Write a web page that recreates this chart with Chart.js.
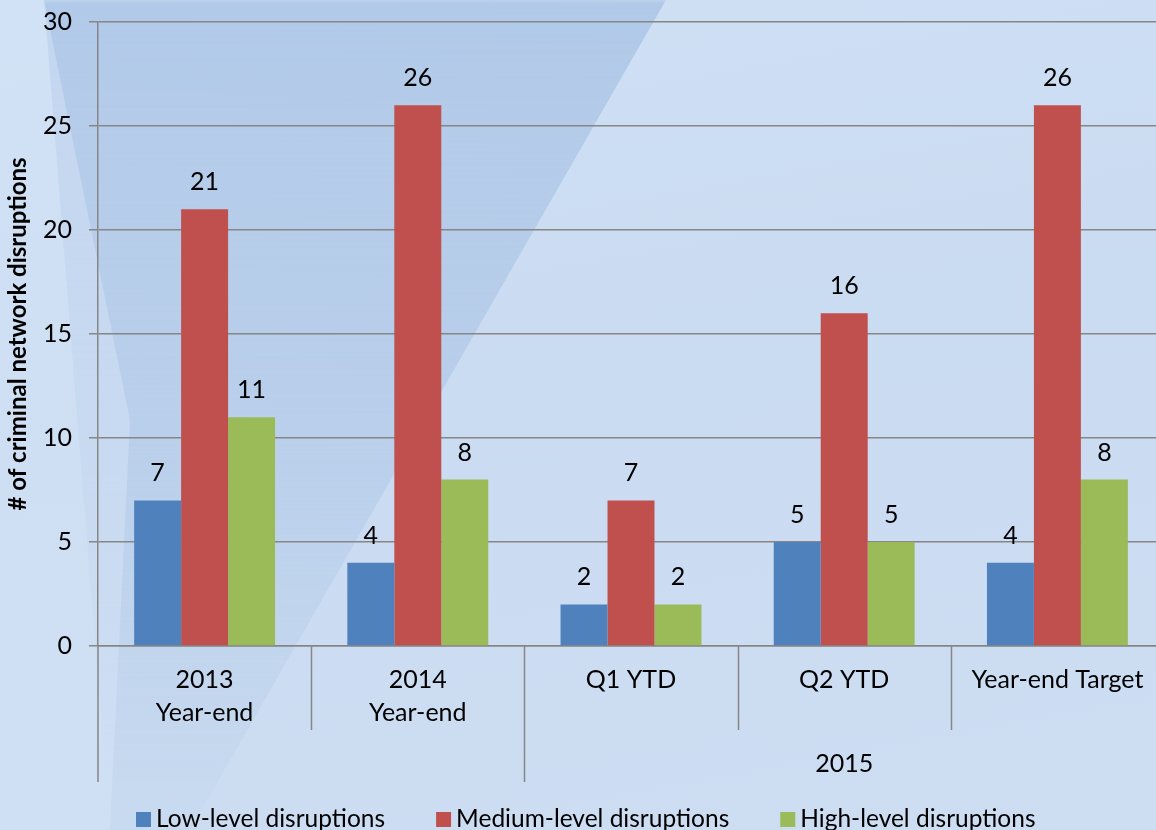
<!DOCTYPE html>
<html>
<head>
<meta charset="utf-8">
<script src="https://cdn.jsdelivr.net/npm/chart.js@4.4.1/dist/chart.umd.min.js"></script>
<style>
  html, body { margin:0; padding:0; width:1156px; height:830px; overflow:hidden; }
  body { position:relative; background: linear-gradient(170deg, #cddff4 0%, #c5d8ef 45%, #c9dbf1 100%); }
  .shape1 { position:absolute; left:0; top:0; width:1156px; height:830px;
    background: linear-gradient(180deg, rgba(160,188,226,0.6) 0%, rgba(160,188,226,0.35) 45%, rgba(160,188,226,0.0) 95%);
    clip-path: polygon(44px 0px, 666px 0px, 190px 830px, 110px 830px); filter: blur(2px); }
  .shape3 { position:absolute; left:0; top:0; width:1156px; height:830px;
    background: rgba(218,231,248,0.45);
    clip-path: polygon(0px 0px, 44px 0px, 130px 420px, 110px 830px, 0px 830px); }
  .shape2 { position:absolute; left:0; top:0; width:1156px; height:830px;
    background: rgba(214,228,247,0.3);
    clip-path: polygon(666px 0px, 1156px 0px, 1156px 830px, 190px 830px); }
  #wrap { position:absolute; left:0; top:0; width:1164px; height:830px; }
</style>
</head>
<body>
<div class="shape1"></div>
<div class="shape2"></div>
<div class="shape3"></div>
<div id="wrap"><canvas id="c" width="1164" height="830"></canvas></div>
<script>
const categories = [["2013","Year-end"],["2014","Year-end"],["Q1 YTD"],["Q2 YTD"],["Year-end Target"]];
const groupLabels = [{label:"", from:0, to:1}, {label:"2015", from:2, to:4}];
const seriesNames = ["Low-level disruptions","Medium-level disruptions","High-level disruptions"];
const lowValues = [7, 4, 2, 5, 4];
const mediumValues = [21, 26, 7, 16, 26];
const highValues = [11, 8, 2, 5, 8];
const yTicks = [0, 5, 10, 15, 20, 25, 30];
const colors = ["#4F81BD", "#C0504D", "#9BBB59"];
const FONT = "Lato, 'Open Sans', sans-serif";
const FS = 25;

const overlay = {
  id: 'overlay',
  afterDatasetsDraw(chart) {
    const ctx = chart.ctx;
    const x = chart.scales.x;
    const area = chart.chartArea;
    ctx.save();
    ctx.fillStyle = '#000';
    ctx.font = FS + 'px ' + FONT;
    ctx.textAlign = 'center';
    ctx.textBaseline = 'alphabetic';
    chart.data.datasets.forEach((ds, di) => {
      chart.getDatasetMeta(di).data.forEach((bar, i) => {
        ctx.fillText(String(ds.data[i]), bar.x, bar.y - 19);
      });
    });
    ctx.strokeStyle = '#868686';
    ctx.lineWidth = 1.5;
    const n = categories.length;
    const half = (x.getPixelForValue(1) - x.getPixelForValue(0)) / 2;
    const bottom = area.bottom;
    for (let i = 1; i <= n; i++) {
      const px = i < n ? x.getPixelForValue(i) - half : x.getPixelForValue(n - 1) + half;
      const isGroupEdge = groupLabels.some(g => g.from === i) || i === n;
      const len = isGroupEdge ? 136 : 84;
      ctx.beginPath();
      ctx.moveTo(Math.round(px) + 0.5, bottom);
      ctx.lineTo(Math.round(px) + 0.5, bottom + len);
      ctx.stroke();
    }
    ctx.beginPath();
    ctx.moveTo(area.left, bottom);
    ctx.lineTo(area.left, bottom + 136);
    ctx.stroke();
    ctx.fillStyle = '#000';
    ctx.textBaseline = 'middle';
    categories.forEach((lines, i) => {
      const px = x.getPixelForValue(i);
      lines.forEach((t, li) => ctx.fillText(t, px, bottom + 34 + li * 33));
    });
    groupLabels.forEach(g => {
      if (!g.label) return;
      const px = (x.getPixelForValue(g.from) - half + x.getPixelForValue(g.to) + half) / 2;
      ctx.fillText(g.label, px, bottom + 118);
    });
    ctx.textAlign = 'left';
    ctx.font = '24.5px ' + FONT;
    let lx = 136;
    const ly = 812;
    seriesNames.forEach((name, i) => {
      ctx.fillStyle = colors[i];
      ctx.fillRect(lx, ly, 15, 15);
      ctx.fillStyle = '#000';
      ctx.fillText(name, lx + 20, ly + 7);
      lx += 20 + ctx.measureText(name).width + 51;
    });
    ctx.restore();
  }
};

new Chart(document.getElementById('c'), {
  type: 'bar',
  data: {
    labels: categories.map(c => c.join(' ')),
    datasets: [
      { label: seriesNames[0], data: lowValues, backgroundColor: colors[0] },
      { label: seriesNames[1], data: mediumValues, backgroundColor: colors[1] },
      { label: seriesNames[2], data: highValues, backgroundColor: colors[2] }
    ]
  },
  options: {
    responsive: false,
    animation: false,
    layout: { padding: { top: 22, left: 0, right: 0, bottom: 0 } },
    plugins: { legend: { display: false }, tooltip: { enabled: false } },
    datasets: { bar: { categoryPercentage: 0.661, barPercentage: 1.0 } },
    scales: {
      x: {
        ticks: { display: false },
        grid: { display: false },
        border: { display: true, color: '#868686', width: 1.5 },
        afterFit(s) { s.height = 830 - 22 - 624; s.paddingLeft = 0; s.paddingRight = 0; }
      },
      y: {
        min: 0, max: 30,
        afterBuildTicks(s) { s.ticks = yTicks.map(v => ({ value: v })); },
        ticks: { color: '#000', font: { size: FS, family: FONT }, padding: 17 },
        grid: { color: '#868686', lineWidth: 1.5, tickLength: 9, drawTicks: true },
        border: { display: true, color: '#868686', width: 1.5 },
        title: { display: true, text: '# of criminal network disruptions', color: '#000',
                 font: { size: 24, weight: 'bold', family: FONT }, padding: { top: 4, bottom: 0 } },
        afterFit(s) { s.width = 98; s.paddingTop = 0; s.paddingBottom = 0; }
      }
    }
  },
  plugins: [overlay]
});
</script>
</body>
</html>
